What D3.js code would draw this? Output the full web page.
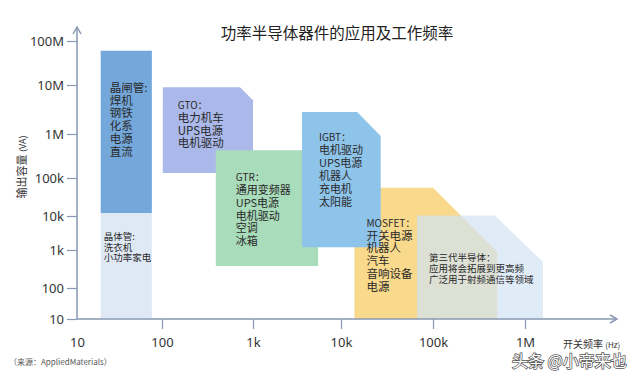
<!DOCTYPE html>
<html>
<head>
<meta charset="utf-8">
<script src="https://cdn.jsdelivr.net/npm/d3@7"></script>
<style>
  body { margin: 0; background: #fff; }
  svg { display: block; font-family: "Noto Sans CJK SC", "Noto Sans", sans-serif; }
</style>
</head>
<body>
<svg id="chart"></svg>
<script>
// axis ticks (Hz on x, VA on y)
const xTicks = [10, 100, 1e3, 1e4, 1e5, 1e6];
const xTickLabels = ["10", "100", "1k", "10k", "100k", "1M"];
const yTicks = [10, 100, 1e3, 1e4, 1e5, 1e6, 1e7, 1e8];
const yTickLabels = ["10", "100", "1k", "10k", "100k", "1M", "10M", "100M"];

// device regions
const devices = ["晶闸管", "晶体管", "GTO", "GTR", "MOSFET", "IGBT", "第三代半导体"];
const freqMin = [19, 19, 102, 390, 14e3, 3.6e3, 67e3];
const freqMax = [76, 76, 1e3, 5.5e3, 5e5, 2.7e4, 1.57e6];
const vaMin = [1.2e4, 10, 1.3e5, 380, 10, 1.2e3, 10];
const vaMax = [6e7, 1.2e4, 9e6, 4.3e5, 5.5e4, 2.8e6, 1.03e4];
// cut corner: top edge ends at cutFreq, right edge starts at cutVa (null = square)
const cutFreq = [null, null, 720, null, 1e5, 1.5e4, 4.7e5];
const cutVa = [null, null, 4.9e6, null, 900, 9e5, 480];

const labelLines = [
    ["晶闸管:", "焊机", "钢铁", "化系", "电源", "直流"],
    ["晶体管:", "洗衣机", "小功率家电"],
    ["GTO：", "电力机车", "UPS电源", "电机驱动"],
    ["GTR：", "通用变频器", "UPS电源", "电机驱动", "空调", "冰箱"],
    ["MOSFET：", "开关电源", "机器人", "汽车", "音响设备", "电源"],
    ["IGBT：", "电机驱动", "UPS电源", "机器人", "充电机", "太阳能"],
    ["第三代半导体：", "应用将会拓展到更高频", "广泛用于射频通信等领域"]
];

// styling per device
const fills = ["#74a8da", "#dfe9f5", "#aab9e9", "#a9dcba", "#f9d98c", "#8fc4ea", "#d2e2f3"];
const opac = [1, 1, 1, 1, 1, 1, 0.7];
const labelDx = [9, 3, 15, 20, 12, 17, 12];
const labelDy = [41, 27.5, 22, 31, 39, 29, 45];
const headSize = [11.5, 9.5, 10, 10, 10, 10, 9.5];
const bodySize = [11.5, 9.5, 11.5, 11, 11.5, 11, 9.5];
const lineH = [12.8, 10.5, 12.7, 12.8, 12.8, 13, 11];
const drawOrder = [0, 1, 2, 3, 4, 5, 6];

const width = 640, height = 377;
const axisColor = "#8799b3";

const svg = d3.select("#chart").attr("width", width).attr("height", height);

// the original axis is log-ish but unevenly spaced, so use a piecewise log scale
const x = d3.scaleLog()
    .domain([10, 100, 1e3, 1e4, 1e5, 1e6, 1e7])
    .range([77, 162, 253, 341, 433, 525, 617]);
const y = d3.scaleLog()
    .domain([10, 100, 1e3, 1e4, 1e5, 1e6, 1e7, 1e8])
    .range([319, 288, 250, 216, 178, 134, 85, 41]);

svg.append("text")
    .attr("x", 337).attr("y", 39)
    .attr("text-anchor", "middle")
    .attr("font-size", "15.5px")
    .attr("fill", "#222")
    .text("功率半导体器件的应用及工作频率");

// regions
const boxes = svg.append("g");
drawOrder.forEach(i => {
    let pts = [[freqMin[i], vaMin[i]], [freqMin[i], vaMax[i]]];
    if (cutFreq[i] != null) {
        pts.push([cutFreq[i], vaMax[i]], [freqMax[i], cutVa[i]]);
    } else {
        pts.push([freqMax[i], vaMax[i]]);
    }
    pts.push([freqMax[i], vaMin[i]]);
    boxes.append("polygon")
        .attr("points", pts.map(p => [x(p[0]), y(p[1])].join(",")).join(" "))
        .attr("fill", fills[i])
        .attr("fill-opacity", opac[i]);
});

// labels on top of all regions
const labels = svg.append("g").attr("fill", "#2a2a2a");
devices.forEach((name, i) => {
    const x0 = x(freqMin[i]) + labelDx[i];
    const y0 = y(vaMax[i]) + labelDy[i];
    const t = labels.append("text");
    labelLines[i].forEach((line, j) => {
        t.append("tspan")
            .attr("x", x0)
            .attr("y", y0 + j * lineH[i])
            .attr("font-size", (j == 0 ? headSize[i] : bodySize[i]) + "px")
            .text(line);
    });
});

// y axis
const yAxis = svg.append("g")
    .attr("transform", `translate(${x(10)},0)`)
    .call(d3.axisLeft(y).tickValues(yTicks).tickFormat((d, i) => yTickLabels[i]).tickSize(10).tickPadding(3));
yAxis.select(".domain").remove();
yAxis.selectAll(".tick line").attr("stroke", axisColor).attr("stroke-width", 1.2);
yAxis.selectAll(".tick text")
    .attr("font-size", "13px")
    .attr("fill", "#333")
    .attr("font-family", "'Noto Sans', sans-serif");

// x axis
const xAxis = svg.append("g")
    .attr("transform", `translate(0,${y(10)})`)
    .call(d3.axisBottom(x).tickValues(xTicks).tickFormat((d, i) => xTickLabels[i]).tickSize(10).tickPadding(9));
xAxis.select(".domain").remove();
xAxis.selectAll(".tick line")
    .attr("stroke", axisColor).attr("stroke-width", 1.2)
    .attr("opacity", (d, i) => i == 0 ? 0 : 1);
xAxis.selectAll(".tick text")
    .attr("font-size", "13px")
    .attr("fill", "#333")
    .attr("font-family", "'Noto Sans', sans-serif");

// axis lines with open arrow heads
const ax = svg.append("g").attr("stroke", axisColor).attr("stroke-width", 1.5).attr("fill", "none");
const ox = x(10), oy = y(10), xEnd = x(1e7), yEnd = 27;
ax.append("line").attr("x1", ox).attr("y1", oy).attr("x2", xEnd).attr("y2", oy);
ax.append("line").attr("x1", ox).attr("y1", oy).attr("x2", ox).attr("y2", yEnd);
ax.append("path").attr("d", `M${xEnd - 7},${oy - 4}L${xEnd},${oy}L${xEnd - 7},${oy + 4}`);
ax.append("path").attr("d", `M${ox - 4},${yEnd + 7}L${ox},${yEnd}L${ox + 4},${yEnd + 7}`);

// axis titles
const xt = svg.append("text").attr("x", 563).attr("y", 348).attr("fill", "#333");
xt.append("tspan").attr("font-size", "10px").text("开关频率 ");
xt.append("tspan").attr("font-size", "8px").text("(Hz)");

const yt = svg.append("text")
    .attr("transform", "translate(26,167) rotate(-90)")
    .attr("text-anchor", "middle")
    .attr("fill", "#333");
yt.append("tspan").attr("font-size", "11px").text("输出容量 ");
yt.append("tspan").attr("font-size", "9px").text("(VA)");

svg.append("text")
    .attr("x", 9).attr("y", 365)
    .attr("font-size", "8px")
    .attr("fill", "#555")
    .text("（来源：AppliedMaterials）");

// watermark
svg.append("text")
    .attr("x", 512).attr("y", 367)
    .attr("font-size", "16px")
    .attr("fill", "#fff")
    .attr("stroke", "#555")
    .attr("stroke-width", 1.5)
    .attr("paint-order", "stroke")
    .text("头条 @小帝来也");
</script>
</body>
</html>
